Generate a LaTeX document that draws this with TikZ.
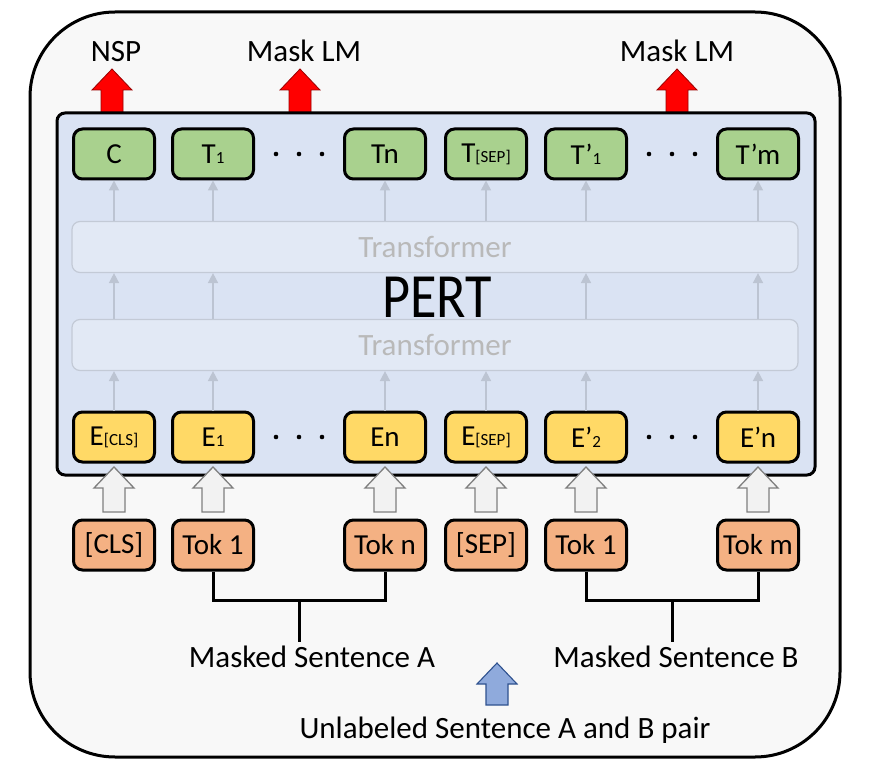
\documentclass[tikz,border=0pt]{standalone}
\usepackage{fontspec}
\setmainfont{Carlito}
\usetikzlibrary{positioning}
\usetikzlibrary{arrows.meta}
\usetikzlibrary{calc}

\definecolor{outerbg}{HTML}{F8F8F8}
\definecolor{pertblue}{HTML}{DAE3F3}
\definecolor{tfblue}{HTML}{E2E9F5}
\definecolor{tfline}{HTML}{C3CAD6}
\definecolor{flowgray}{HTML}{BCC4D2}
\definecolor{outgreen}{HTML}{A9D18E}
\definecolor{embyellow}{HTML}{FFD966}
\definecolor{toksalmon}{HTML}{F4B183}
\definecolor{hollowfill}{HTML}{F2F2F2}
\definecolor{hollowline}{HTML}{7F7F7F}
\definecolor{pairblue}{HTML}{8FAADC}
\definecolor{pairline}{HTML}{2F528F}

\newcommand{\sm}[1]{{\fontsize{17}{17}\selectfont #1}}
% block arrow: style, x, y of base, y of tip
\newcommand{\fatarrow}[4]{%
  \draw[#1] (#2-11,#3) -- (#2-11,#4+21) -- (#2-20,#4+21) -- (#2,#4)
    -- (#2+20,#4+21) -- (#2+11,#4+21) -- (#2+11,#3) -- cycle;}

\tikzset{
  cell/.style={draw=black, line width=3pt, rounded corners=9pt,
    minimum width=81pt, minimum height=50pt, inner sep=0pt,
    font=\fontsize{29}{32}\selectfont},
  outcell/.style={cell, fill=outgreen},
  embcell/.style={cell, fill=embyellow},
  tokcell/.style={cell, fill=toksalmon},
  tflayer/.style={draw=tfline, line width=1.2pt, fill=tfblue, rounded corners=8pt,
    minimum width=726pt, minimum height=51pt, text=gray!55,
    font=\fontsize{31}{34}\selectfont},
  flow/.style={draw=flowgray, line width=1.6pt, -{Triangle[width=10pt,length=10pt]}},
  label/.style={font=\fontsize{31}{34}\selectfont, anchor=base},
  bracket/.style={line width=3pt},
  redarrow/.style={fill=red, draw=red!60!black, line width=0.8pt},
  hollow/.style={fill=hollowfill, draw=hollowline, line width=1.3pt},
  pairarrow/.style={fill=pairblue, draw=pairline, line width=1.1pt}
}

\begin{document}
\begin{tikzpicture}[x=1pt, y=-1pt]
  \useasboundingbox (0,0) rectangle (889,778);
  \draw[line width=3pt, fill=outerbg, rounded corners=85pt] (30,12) rectangle (840,757);

  % outputs above the model
  \fatarrow{redarrow}{112}{114}{69}
  \fatarrow{redarrow}{300}{114}{69}
  \fatarrow{redarrow}{677}{114}{69}
  \node[label] (nsp) at (116,62) {NSP};
  \node[label] (mlma) at (304,62) {Mask LM};
  \node[label] (mlmb) at (677,62) {Mask LM};

  \draw[line width=3pt, fill=pertblue, rounded corners=8pt] (57,113) rectangle (815,475);

  \node[tflayer] (uptf) at (435,247) {Transformer};
  \node[tflayer] (lowtf) at (435,345) {Transformer};
  \node[font=\fontsize{63}{63}\selectfont, anchor=base] (pert) at (437,317) {\scalebox{0.86}[1]{PERT}};

  \foreach \n/\x/\t in {C/114/C, T1/213/T\sm{1}, Tn/385/Tn, Tsep/486/T\sm{[SEP]},
                        Tpa/586/T’\sm{1}, Tpm/758/T’m}
    \node[outcell] (\n) at (\x,154) {\t};
  \foreach \n/\x/\t in {Ecls/114/E\sm{[CLS]}, E1/213/E\sm{1}, En/385/En, Esep/486/E\sm{[SEP]},
                        Epa/586/E’\sm{2}, Epn/758/E’n}
    \node[embcell] (\n) at (\x,437) {\t};
  \foreach \n/\x/\t in {cls/114/[CLS], toka/213/Tok 1, tokn/385/Tok n, sep/486/[SEP],
                        tokb/586/Tok 1, tokm/758/Tok m}
    \node[tokcell] (\n) at (\x,545) {\t};

  % thin arrows through the layers
  \foreach \e/\t in {Ecls/C, E1/T1, En/Tn, Esep/Tsep, Epa/Tpa, Epn/Tpm} {
    \draw[flow] (\e.north) -- (\e.north |- lowtf.south);
    \draw[flow] (uptf.north -| \t.south) -- (\t.south);
  }
  \foreach \e in {Ecls, E1, Epa, Epn}
    \draw[flow] (lowtf.north -| \e) -- (uptf.south -| \e);

  % dots
  \foreach \d in {-23,0,23} {
    \fill ([xshift=\d pt]$(T1)!0.5!(Tn)$) circle (2.3pt);
    \fill ([xshift=\d pt]$(Tpa)!0.5!(Tpm)$) circle (2.3pt);
    \fill ([xshift=\d pt]$(E1)!0.5!(En)$) circle (2.3pt);
    \fill ([xshift=\d pt]$(Epa)!0.5!(Epn)$) circle (2.3pt);
  }

  % token to embedding
  \foreach \x in {114,213,385,486,586,758} {
    \fatarrow{hollow}{\x}{512}{467}
  }

  % sentences
  \node[label] (senta) at (312,667) {Masked Sentence A};
  \node[label] (sentb) at (676,667) {Masked Sentence B};
  \node[label] (pair) at (505,738) {Unlabeled Sentence A and B pair};
  \coordinate (ja) at (299,600);
  \coordinate (jb) at (672,600);
  \draw[bracket] (toka.south) |- (ja) -| (tokn.south);
  \draw[bracket] (ja) -- (ja |- senta.north);
  \draw[bracket] (tokb.south) |- (jb) -| (tokm.south);
  \draw[bracket] (jb) -- (jb |- sentb.north);
  \fatarrow{pairarrow}{497}{705}{663}
\end{tikzpicture}
\end{document}
